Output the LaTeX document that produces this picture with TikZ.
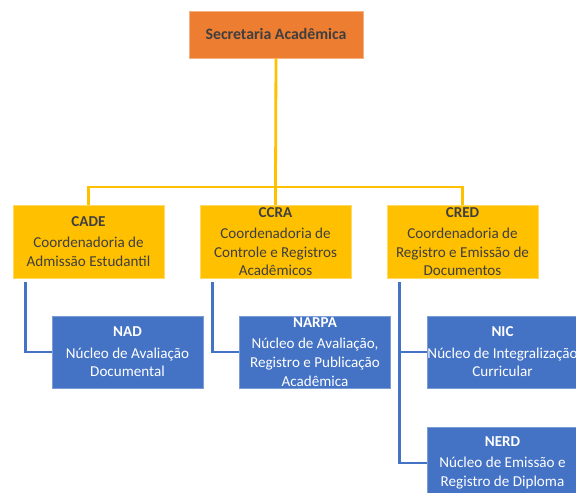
\documentclass[tikz,border=0pt]{standalone}
\usepackage{fontspec}
\setmainfont{Carlito}
\definecolor{secorange}{HTML}{ED7D31}
\definecolor{coordyellow}{HTML}{FFC000}
\definecolor{nucblue}{HTML}{4472C4}
\definecolor{boxtext}{HTML}{3F3F3F}
\begin{document}
\begin{tikzpicture}[x=0.02cm, y=-0.02cm,
		secbox/.style={fill=secorange, draw=secorange!60, line width=0.4pt, text=boxtext, font=\fontsize{9}{11}\selectfont\bfseries, minimum width=3.48cm, minimum height=0.94cm, inner sep=0pt},
		coordbox/.style={fill=coordyellow, draw=coordyellow!60, line width=0.4pt, text=boxtext, align=center, font=\fontsize{8.6}{10.6}\selectfont, minimum width=3.02cm, minimum height=1.46cm, inner sep=0pt},
		nucbox/.style={fill=nucblue, draw=nucblue!70, line width=0.4pt, text=white, align=center, font=\fontsize{8.6}{10.6}\selectfont, minimum width=3.02cm, minimum height=1.44cm, inner sep=0pt},
		yline/.style={coordyellow, line width=1.6pt},
		bline/.style={nucblue, line width=1.6pt}]
		\useasboundingbox (0,0) rectangle (576,493);
		\clip (0,0) rectangle (576,493);

		% SECRETARIA
		\node[secbox] (sec) at (276,34.5) {Secretaria Acadêmica};

		% COORDENADORIAS
		\node[coordbox] (cade) at (88.5,241.5) {\textbf{CADE}\\[1.5pt]Coordenadoria de\\Admissão Estudantil};
		\node[coordbox] (ccra) at (275.5,241.5) {\textbf{CCRA}\\[1.5pt]Coordenadoria de\\Controle e Registros\\Acadêmicos};
		\node[coordbox] (cred) at (462.5,241.5) {\textbf{CRED}\\[1.5pt]Coordenadoria de\\Registro e Emissão de\\Documentos};

		% NUCLEOS
		\node[nucbox] (nad) at (127.5,352) {\textbf{NAD}\\[1.5pt]Núcleo de Avaliação\\Documental};
		\node[nucbox] (narpa) at (315,352) {\textbf{NARPA}\\[1.5pt]Núcleo de Avaliação,\\Registro e Publicação\\Acadêmica};
		\node[nucbox] (nic) at (502.5,352) {\textbf{NIC}\\[1.5pt]Núcleo de Integralização\\Curricular};
		\node[nucbox] (nerd) at (502.5,463) {\textbf{NERD}\\[1.5pt]Núcleo de Emissão e\\Registro de Diploma};

		% LIGACOES
		\coordinate (bar) at (275.5,187);
		\draw[yline] (sec.south) -- (bar);
		\draw[yline] (cade.north) |- (bar) -| (cred.north);
		\draw[yline] (ccra.north) -- (bar);
		\draw[bline] (cade.south west) ++(13,4) |- (nad.west);
		\draw[bline] (ccra.south west) ++(13,4) |- (narpa.west);
		\draw[bline] (cred.south west) ++(13,4) |- (nic.west);
		\draw[bline] (cred.south west) ++(13,4) |- (nerd.west);
	\end{tikzpicture}
\end{document}
